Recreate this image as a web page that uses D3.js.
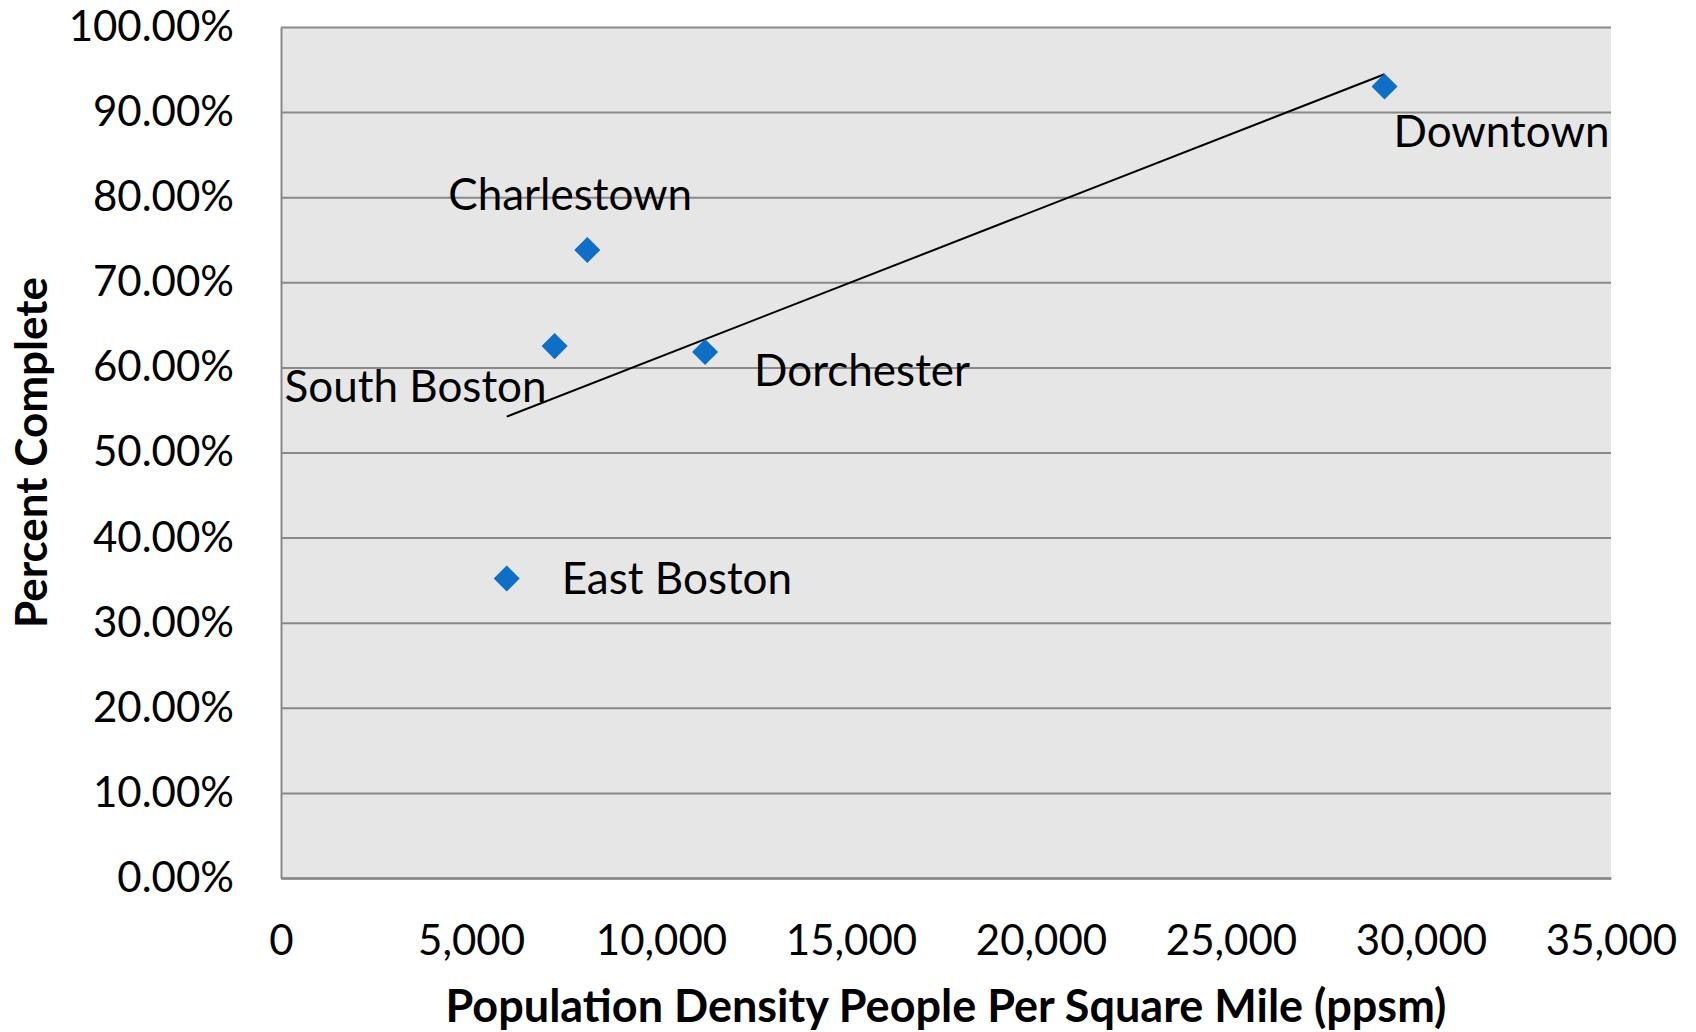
<!DOCTYPE html>
<html>
<head>
<meta charset="utf-8">
<script src="https://cdn.jsdelivr.net/npm/d3@7"></script>
<style>
  body { margin: 0; background: #fff; }
  text { font-family: Lato, "Liberation Sans", sans-serif; fill: #000; }
</style>
</head>
<body>
<svg id="chart"></svg>
<script>
// data
let areas = ["Charlestown", "South Boston", "Dorchester", "East Boston", "Downtown"];
let density = [8060, 7200, 11160, 5940, 29040];      // ppsm
let complete = [0.738, 0.625, 0.618, 0.352, 0.930];  // share complete
let xTicks = [0, 5000, 10000, 15000, 20000, 25000, 30000, 35000];
let yTicks = [0, 0.1, 0.2, 0.3, 0.4, 0.5, 0.6, 0.7, 0.8, 0.9, 1.0];

// where each data label sits relative to its marker (anchor, dx, dy to baseline)
let labelPlace = {
  "Charlestown": ["start", -139, -40],
  "South Boston": ["end", -8, 56],
  "Dorchester": ["start", 49, 34],
  "East Boston": ["start", 55, 16],
  "Downtown": ["start", 9, 60]
};

function getConfig() {
  let width = 1696;
  let height = 1032;
  let margin = { top: 27, bottom: 154, left: 281, right: 85 };
  let bodyWidth = width - margin.left - margin.right;
  let bodyHeight = height - margin.top - margin.bottom;
  let container = d3.select("#chart")
    .attr("width", width)
    .attr("height", height);
  return { width, height, margin, bodyWidth, bodyHeight, container };
}

function getScales(config) {
  let { bodyWidth, bodyHeight } = config;
  let xScale = d3.scaleLinear().domain([0, 35000]).range([0, bodyWidth]);
  let yScale = d3.scaleLinear().domain([0, 1]).range([bodyHeight, 0]);
  return { xScale, yScale };
}

function drawChart() {
  let config = getConfig();
  let { margin, bodyWidth, bodyHeight, container } = config;
  let { xScale, yScale } = getScales(config);
  let points = areas.map((a, i) => ({ name: a, x: density[i], y: complete[i] }));

  let body = container.append("g")
    .attr("transform", `translate(${margin.left},${margin.top})`);

  body.append("rect")
    .attr("width", bodyWidth)
    .attr("height", bodyHeight)
    .attr("fill", "#e6e6e6");

  // y axis + gridlines
  let yAxis = body.append("g")
    .call(d3.axisLeft(yScale)
      .tickValues(yTicks)
      .tickFormat(d3.format(".2%"))
      .tickSizeInner(-bodyWidth)
      .tickSizeOuter(0)
      .tickPadding(47));
  yAxis.selectAll(".tick line").attr("stroke", "#898989").attr("stroke-width", 2);
  yAxis.select(".domain").attr("stroke", "#898989").attr("stroke-width", 2);
  yAxis.selectAll("text").attr("font-size", 42).attr("font-family", "Lato").attr("fill", "#000");

  // x axis
  let xAxis = body.append("g")
    .attr("transform", `translate(0,${bodyHeight})`)
    .call(d3.axisBottom(xScale)
      .tickValues(xTicks)
      .tickFormat(d3.format(","))
      .tickSize(0)
      .tickPadding(47));
  xAxis.select(".domain").attr("stroke", "#898989").attr("stroke-width", 2.5);
  xAxis.selectAll("text").attr("font-size", 42).attr("font-family", "Lato").attr("fill", "#000");

  // linear trendline (least squares) over the data span
  let mx = d3.mean(points, d => d.x), my = d3.mean(points, d => d.y);
  let slope = d3.sum(points, d => (d.x - mx) * (d.y - my)) / d3.sum(points, d => (d.x - mx) ** 2);
  let icpt = my - slope * mx;
  let ext = d3.extent(points, d => d.x);
  body.append("path")
    .datum(ext.map(x => [x, icpt + slope * x]))
    .attr("d", d3.line().x(d => xScale(d[0])).y(d => yScale(d[1])))
    .attr("fill", "none")
    .attr("stroke", "#000")
    .attr("stroke-width", 2);

  // markers
  body.selectAll(".pt")
    .data(points)
    .enter()
    .append("path")
      .attr("class", "pt")
      .attr("d", d3.symbol().type(d3.symbolSquare).size(340))
      .attr("transform", d => `translate(${xScale(d.x)},${yScale(d.y)}) rotate(45)`)
      .attr("fill", "#0f6fc6");

  // data labels
  body.selectAll(".lbl")
    .data(points)
    .enter()
    .append("text")
      .attr("class", "lbl")
      .attr("x", d => xScale(d.x) + labelPlace[d.name][1])
      .attr("y", d => yScale(d.y) + labelPlace[d.name][2])
      .attr("text-anchor", d => labelPlace[d.name][0])
      .attr("font-size", 44)
      .text(d => d.name);

  // axis titles
  container.append("text")
    .attr("x", margin.left + bodyWidth / 2)
    .attr("y", 1022)
    .attr("text-anchor", "middle")
    .attr("font-size", 45)
    .attr("font-weight", "bold")
    .text("Population Density People Per Square Mile (ppsm)");

  container.append("text")
    .attr("transform", `translate(47,${margin.top + bodyHeight / 2}) rotate(-90)`)
    .attr("text-anchor", "middle")
    .attr("font-size", 44)
    .attr("font-weight", "bold")
    .text("Percent Complete");
}

drawChart();
</script>
</body>
</html>
